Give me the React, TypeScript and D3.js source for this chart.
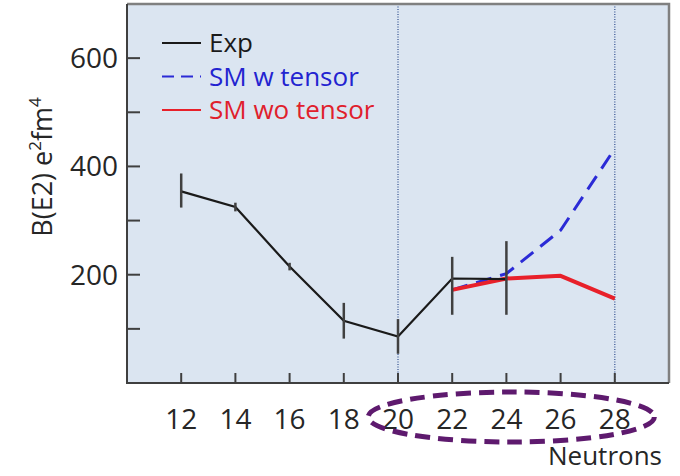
import React from 'react';
import * as d3 from 'd3';

// neutron numbers and measured B(E2) values
const expNeutrons = [12, 14, 16, 18, 20, 22, 24];
const expValues = [354, 325, 215, 115, 86, 193, 192];
const expHigh = [387, 333, 222, 148, 118, 233, 262];
const expLow = [324, 317, 208, 82, 54, 126, 126];

// shell model calculations
const smNeutrons = [22, 24, 26, 28];
const smTensor = [172, 202, 282, 433];
const smNoTensor = [172, 193, 198, 156];

const xTicks = [12, 14, 16, 18, 20, 22, 24, 26, 28];
const yMajorTicks = [200, 400, 600];
const yMinorTicks = [100, 300, 500];
const shellClosures = [20, 28];

const legendItems = [
  { label: 'Exp', color: '#1a1a1a', text: '#1a1a1a', dash: null },
  { label: 'SM w tensor', color: '#2b2bd6', text: '#2323d0', dash: '12,7' },
  { label: 'SM wo tensor', color: '#e8202a', text: '#e0202c', dash: null },
];

const App = () => {
  const width = 680;
  const height = 476;
  const plot = { left: 127, top: 4, right: 669, bottom: 383 };
  const font = '"Open Sans", sans-serif';

  const x = d3.scaleLinear().domain([10, 30]).range([plot.left, plot.right]);
  const y = d3.scaleLinear().domain([0, 700]).range([plot.bottom, plot.top]);

  const line = d3.line<[number, number]>()
    .x(d => x(d[0]))
    .y(d => y(d[1]));

  const expPath = line(expNeutrons.map((n, i) => [n, expValues[i]]));
  const tensorPath = line(smNeutrons.map((n, i) => [n, smTensor[i]]));
  const noTensorPath = line(smNeutrons.map((n, i) => [n, smNoTensor[i]]));

  return (
    <svg width={width} height={height} style={{ position: 'absolute', left: 0, top: 0, background: '#fff' }}>
      {/* plot background */}
      <rect x={plot.left} y={plot.top} width={plot.right - plot.left} height={plot.bottom - plot.top} fill="#dbe5f1" />

      {/* dotted shell closure lines */}
      {shellClosures.map(n => (
        <line key={n} x1={x(n)} x2={x(n)} y1={plot.top} y2={plot.bottom}
          stroke="#3d5a96" strokeWidth={1.3} strokeDasharray="1,1.5" />
      ))}

      {/* frame: top and right in grey */}
      <path d={`M${plot.left},${plot.top}H${plot.right}V${plot.bottom}`} fill="none" stroke="#808080" strokeWidth={2.5} />
      <path d={`M${plot.left},${plot.top}V${plot.bottom}H${plot.right}`} fill="none" stroke="#3f3f3f" strokeWidth={2} />

      {/* y ticks */}
      {[...yMajorTicks, ...yMinorTicks].map(v => (
        <line key={v} x1={plot.left} x2={plot.left + 13} y1={y(v)} y2={y(v)} stroke="#3f3f3f" strokeWidth={2} />
      ))}
      {yMajorTicks.map(v => (
        <text key={v} x={plot.left - 9} y={y(v)} dy="0.35em" textAnchor="end"
          fontFamily={font} fontSize={28} fill="#262626">{v}</text>
      ))}

      {/* x ticks */}
      {xTicks.map(n => (
        <g key={n}>
          <line x1={x(n)} x2={x(n)} y1={plot.bottom} y2={plot.bottom - 10} stroke="#3f3f3f" strokeWidth={2} />
          <text x={x(n)} y={429} textAnchor="middle" fontFamily={font} fontSize={28} fill="#262626">{n}</text>
        </g>
      ))}

      {/* axis titles */}
      <text x={662} y={465} textAnchor="end" fontFamily={font} fontSize={26} fill="#262626">Neutrons</text>
      <text transform={`translate(52,${167}) rotate(-90)`} textAnchor="middle"
        fontFamily={font} fontSize={27} fill="#262626">
        B(E2) e<tspan fontSize={17} dy={-11}>2</tspan><tspan dy={11}>fm</tspan><tspan fontSize={17} dy={-11}>4</tspan>
      </text>

      {/* calculations */}
      <path d={tensorPath || ''} fill="none" stroke="#2b2bd6" strokeWidth={3} strokeDasharray="16,9" />
      <path d={noTensorPath || ''} fill="none" stroke="#e8202a" strokeWidth={4} strokeLinejoin="round" />

      {/* experiment */}
      <path d={expPath || ''} fill="none" stroke="#1a1a1a" strokeWidth={2.2} />
      {expNeutrons.map((n, i) => (
        <line key={n} x1={x(n)} x2={x(n)} y1={y(expHigh[i])} y2={y(expLow[i])} stroke="#404040" strokeWidth={2.5} />
      ))}

      {/* legend */}
      {legendItems.map((item, i) => {
        const ly = 43 + i * 33.5;
        return (
          <g key={item.label}>
            <line x1={162} x2={201} y1={ly} y2={ly} stroke={item.color} strokeWidth={2}
              strokeDasharray={item.dash || undefined} />
            <text x={209} y={ly} dy="0.35em" fontFamily={font} fontSize={26} fill={item.text}>{item.label}</text>
          </g>
        );
      })}

      {/* highlight around N = 20-28 */}
      <ellipse cx={x(24.18)} cy={417} rx={x(24.18) - x(18.9)} ry={25}
        fill="none" stroke="#5e1a6e" strokeWidth={5} strokeDasharray="15,8" />
    </svg>
  );
};

export default App;
